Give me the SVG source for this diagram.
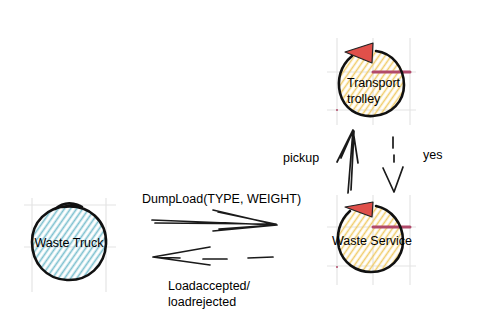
<svg xmlns="http://www.w3.org/2000/svg" width="484" height="323" viewBox="0 0 484 323">
  <style>
    .grid { stroke: #e4e4e4; stroke-width: 1.2; fill: none; }
    .ring { fill: none; stroke: #111; stroke-width: 2.6; stroke-linecap: round; }
    .ink { fill: none; stroke: #1a1a1a; stroke-width: 1.7; stroke-linecap: round; stroke-linejoin: round; }
    .bar { stroke: #b24a6a; stroke-width: 3; stroke-linecap: round; }
    .flag { fill: #e0504a; stroke: #222; stroke-width: 1.2; stroke-linejoin: round; }
    text { font-family: "Liberation Sans", Arial, sans-serif; font-size: 12.5px; fill: #000; }
  </style>
  <defs>
    <pattern id="hatchBlue" width="5" height="5" patternUnits="userSpaceOnUse" patternTransform="rotate(-55)">
      <line x1="0" y1="2.5" x2="5" y2="2.5" stroke="#7cc0cf" stroke-width="1.7"/>
    </pattern>
    <pattern id="hatchYellow" width="5" height="5" patternUnits="userSpaceOnUse" patternTransform="rotate(-55)">
      <line x1="0" y1="2.5" x2="5" y2="2.5" stroke="#f0cc6a" stroke-width="1.6"/>
    </pattern>
  </defs>

  <rect width="484" height="323" fill="#fff"/>

  <!-- light sketch grid behind the nodes -->
  <g id="grid">
    <path class="grid" d="M32 198 V292 M106 198 V292 M24 205 H116 M24 247 H116"/>
    <path class="grid" d="M337 38 V125 M373 38 V125 M410 38 V125 M327 72 H416 M327 110 H416"/>
    <path class="grid" d="M337 195 V285 M373 195 V285 M410 195 V285 M327 227 H416 M327 266 H416"/>
  </g>

  <g id="waste-truck">
    <circle cx="69" cy="243" r="37" fill="url(#hatchBlue)"/>
    <path class="ring" d="M62 207 C90 203 107 222 106 244 C105 266 88 281 67 280 C46 279 32 263 32 242 C32 222 47 207 68 206 C74 205 79 204 82 207"/>
    <path class="ring" d="M55 209 C62 203 70 202 78 205" stroke-width="1.4"/>
    <text x="69" y="247" text-anchor="middle">Waste Truck</text>
  </g>

  <g id="transport-trolley">
    <circle cx="372" cy="83" r="33" fill="url(#hatchYellow)"/>
    <line class="bar" x1="373" y1="72" x2="410" y2="72"/>
    <circle cx="337" cy="110" r="1" fill="#b24a6a"/>
    <path class="ring" d="M352 56 C340 66 337 80 340 93 C344 109 358 117 373 116 C392 115 404 101 404 85 C404 67 392 53 376 51"/>
    <polygon class="flag" points="345,52 373,43 372,63"/>
    <text x="347" y="87">Transport</text>
    <text x="347" y="103">trolley</text>
  </g>

  <g id="waste-service">
    <circle cx="371" cy="239" r="33" fill="url(#hatchYellow)"/>
    <line class="bar" x1="373" y1="227" x2="410" y2="227"/>
    <circle cx="337" cy="267" r="1" fill="#b24a6a"/>
    <path class="ring" d="M350 211 C339 221 336 235 339 248 C343 263 356 272 371 272 C390 272 403 258 403 241 C403 223 391 209 376 206"/>
    <polygon class="flag" points="345,207 373,202 372,217"/>
    <text x="372" y="245" text-anchor="middle">Waste Service</text>
  </g>

  <g id="connectors">
    <!-- DumpLoad request -->
    <path class="ink" d="M152 220 L277 225 M155 223 L276 224 M213 210 L277 225 L213 231 M218 212 L275 224 M219 229 L274 225"/>
    <!-- Loadaccepted / loadrejected reply -->
    <path class="ink" d="M210 247 L153 257 L210 265 M153 257 L180 258 M203 259 L227 259 M248 258 L273 257"/>
    <!-- pickup -->
    <path class="ink" d="M348 193 L353 130 M351 190 L354 131 M337 162 L353 130 L358 163 M341 158 L352 133"/>
    <!-- yes -->
    <path class="ink" d="M393 137 L393 148 M394 155 L394 162 M383 168 L394 192 L403 167"/>
  </g>

  <g id="labels">
    <text x="142" y="203">DumpLoad(TYPE, WEIGHT)</text>
    <text x="168" y="290">Loadaccepted/</text>
    <text x="168" y="306">loadrejected</text>
    <text x="283" y="162">pickup</text>
    <text x="423" y="159">yes</text>
  </g>
</svg>
